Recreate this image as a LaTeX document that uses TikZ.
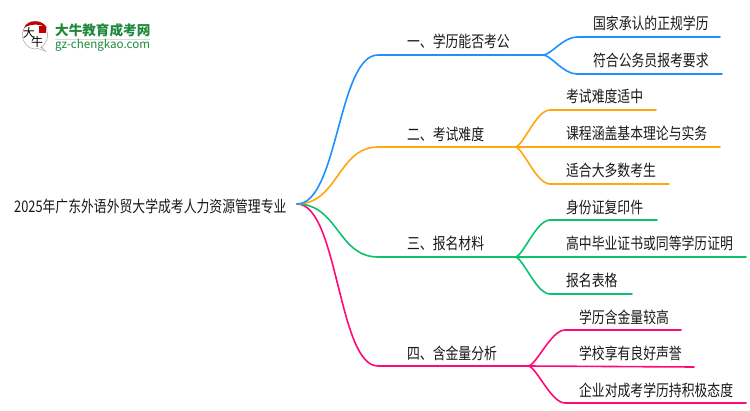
\documentclass[tikz,border=0pt]{standalone}
\usepackage{fontspec}
\setmainfont{Noto Sans CJK SC}
\definecolor{cblue}{HTML}{1E90FF}
\definecolor{corange}{HTML}{FFA70F}
\definecolor{cgreen}{HTML}{0CC26E}
\definecolor{cpink}{HTML}{FF0A78}
\definecolor{logogreen}{HTML}{1F8A3C}
\tikzset{
  lab/.style={anchor=west,inner sep=0pt,text=black!90,font=\fontsize{16}{17}\selectfont,xscale=0.802},
  wire/.style={line width=1.6pt,line cap=round},
}
% #1 colour, #2 junction, #3 end of curve, #4 end of line
\newcommand{\leafwire}[4]{\draw[wire,#1] (#2) .. controls +(8,0) and +(-14,0) .. (#3) -- (#4);}
\begin{document}
\begin{tikzpicture}[x=1pt,y=-1pt]
\useasboundingbox (0,0) rectangle (750,410);
\fill[white] (0,0) rectangle (750,410);

% root
\node[lab] (root) at (14,206) {2025年广东外语外贸大学成考人力资源管理专业};
\coordinate (o) at (297,204);

% level one
\coordinate (b1a) at (378,55);  \coordinate (b1) at (543,55);
\coordinate (b2a) at (378,147); \coordinate (b2) at (515,147);
\coordinate (b3a) at (378,257); \coordinate (b3) at (515,257);
\coordinate (b4a) at (378,366); \coordinate (b4) at (528,366);
\node[lab] (t1) at (407,41)  {一、学历能否考公};
\node[lab] (t2) at (407,134) {二、考试难度};
\node[lab] (t3) at (407,243) {三、报名材料};
\node[lab] (t4) at (407,353) {四、含金量分析};

\draw[wire,cpink]   (o) .. controls (338,204) and (338,366) .. (b4a) -- (b4);
\draw[wire,cgreen]  (o) .. controls (338,204) and (338,257) .. (b3a) -- (b3);
\draw[wire,corange] (o) .. controls (338,204) and (338,147) .. (b2a) -- (b2);
\draw[wire,cblue]   (o) .. controls (338,204) and (338,55)  .. (b1a) -- (b1);

% leaves: blue
\coordinate (l1a) at (577,37);  \coordinate (l1A) at (720,37);
\coordinate (l1b) at (577,74);  \coordinate (l1B) at (722,74);
\node[lab] (n11) at (593,23) {国家承认的正规学历};
\node[lab] (n12) at (593,60) {符合公务员报考要求};
\leafwire{cblue}{b1}{l1a}{l1A}
\leafwire{cblue}{b1}{l1b}{l1B}

% leaves: orange
\coordinate (l2a) at (550,110); \coordinate (l2A) at (656,110);
\coordinate (l2B) at (720,147);
\coordinate (l2c) at (550,184); \coordinate (l2C) at (669,184);
\node[lab] (n21) at (566,96)  {考试难度适中};
\node[lab] (n22) at (566,133) {课程涵盖基本理论与实务};
\node[lab] (n23) at (566,170) {适合大多数考生};
\leafwire{corange}{b2}{l2a}{l2A}
\draw[wire,corange] (b2) -- (l2B);
\leafwire{corange}{b2}{l2c}{l2C}

% leaves: green
\coordinate (l3a) at (550,220); \coordinate (l3A) at (657,220);
\coordinate (l3B) at (746,257);
\coordinate (l3c) at (550,294); \coordinate (l3C) at (632,294);
\node[lab] (n31) at (566,207) {身份证复印件};
\node[lab] (n32) at (566,243) {高中毕业证书或同等学历证明};
\node[lab] (n33) at (566,280) {报名表格};
\leafwire{cgreen}{b3}{l3a}{l3A}
\draw[wire,cgreen] (b3) -- (l3B);
\leafwire{cgreen}{b3}{l3c}{l3C}

% leaves: pink
\coordinate (l4a) at (565,330); \coordinate (l4A) at (681,330);
\coordinate (l4B) at (694,367);
\coordinate (l4c) at (565,403); \coordinate (l4C) at (746,403);
\node[lab] (n41) at (579,317) {学历含金量较高};
\node[lab] (n42) at (579,353) {学校享有良好声誉};
\node[lab] (n43) at (579,390) {企业对成考学历持积极态度};
\leafwire{cpink}{b4}{l4a}{l4A}
\draw[wire,cpink] (b4) -- (l4B);
\leafwire{cpink}{b4}{l4c}{l4C}

% logo
\fill[black!35] (40,45) -- (47,52) -- (33,47) -- cycle;
\draw[black!35,line width=0.5pt,fill=white] (35,35) ellipse (12.5 and 14);
\fill[white] (38,46) -- (45,50.5) -- (36,47.5) -- cycle;
\fill[red!75!black] (24,28) .. controls (27,19) and (43,19) .. (47,28) .. controls (41,23.5) and (30,23.5) .. (24,28) -- cycle;
\fill[red!75!black] (39,26) rectangle (46,33);
\node[inner sep=0pt,font=\fontsize{12}{12}\selectfont] (logoa) at (29,33) {大};
\node[inner sep=0pt,font=\fontsize{12}{12}\selectfont] (logob) at (37,42) {牛};
\node[anchor=west,inner sep=0pt,text=logogreen,font=\fontsize{13.6}{14}\bfseries\selectfont] (logoc) at (55,30) {大牛教育成考网};
\draw[black!15,line width=0.5pt] (55,39) -- (150,39);
\node[anchor=west,inner sep=0pt,text=logogreen,font=\fontsize{11.6}{12}\selectfont] (logod) at (55,45.5) {gz-chengkao.com};
\end{tikzpicture}
\end{document}
